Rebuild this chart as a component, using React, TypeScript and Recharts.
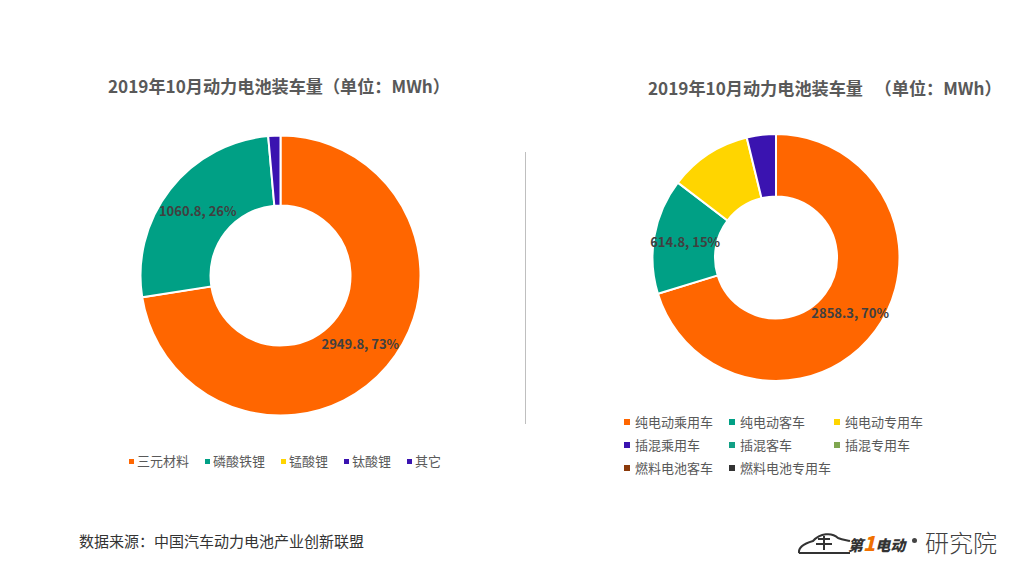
import React from 'react';
import { PieChart, Pie, Cell, Legend } from 'recharts';

const FONT = '"Noto Sans CJK SC", "Noto Sans", sans-serif';

const leftTitle = '2019年10月动力电池装车量\uFF08单位\uFF1AMWh\uFF09';
const rightTitle = '2019年10月动力电池装车量   \uFF08单位\uFF1AMWh\uFF09';
const sourceNote = '数据来源\uFF1A中国汽车动力电池产业创新联盟';

const materialNames = ['三元材料', '磷酸铁锂', '锰酸锂', '钛酸锂', '其它'];
const materialValues = [2949.8, 1060.8, 0, 0, 57];
const materialColors = ['#FF6600', '#00A085', '#FFD500', '#3A13B0', '#3A13B0'];

const vehicleNames = ['纯电动乘用车', '纯电动客车', '纯电动专用车', '插混乘用车', '插混客车', '插混专用车', '燃料电池客车', '燃料电池专用车'];
const vehicleValues = [2858.3, 614.8, 440, 155, 0, 0, 0, 0];
const vehicleColors = ['#FF6600', '#00A085', '#FFD500', '#3A13B0', '#12A085', '#7FA650', '#8B3A0A', '#333333'];

const materialData = materialNames.map((name, i) => ({ name, value: materialValues[i] }));
const vehicleData = vehicleNames.map((name, i) => ({ name, value: vehicleValues[i] }));

const renderLabel = (props: any) => {
  if (props.index > 1) return null;
  const r = (props.innerRadius + props.outerRadius) / 2;
  const a = (-props.midAngle * Math.PI) / 180;
  return (
    <text
      x={props.cx + r * Math.cos(a)}
      y={props.cy + r * Math.sin(a)}
      textAnchor="middle"
      dominantBaseline="central"
      fontSize={13}
      fontWeight={700}
      fontFamily={FONT}
      fill="#404040"
    >
      {`${props.value}, ${Math.round(props.percent * 100)}%`}
    </text>
  );
};

const MaterialLegend = ({ payload }: any) => (
  <div style={{ display: 'flex', fontSize: 13, color: '#595959', fontFamily: FONT, lineHeight: '18px', whiteSpace: 'nowrap' }}>
    {(payload || []).map((p: any) => (
      <div key={p.value} style={{ display: 'flex', alignItems: 'center', marginRight: 16 }}>
        <span style={{ flex: 'none', width: 5, height: 5, background: p.color, marginRight: 3 }} />
        {p.value}
      </div>
    ))}
  </div>
);

const VehicleLegend = ({ payload }: any) => (
  <div style={{ display: 'grid', gridTemplateColumns: '105px 105px 105px', rowGap: 5, fontSize: 13, color: '#595959', fontFamily: FONT, lineHeight: '18px' }}>
    {(payload || []).map((p: any) => (
      <div key={p.value} style={{ display: 'flex', alignItems: 'center', whiteSpace: 'nowrap' }}>
        <span style={{ flex: 'none', width: 6, height: 6, background: p.color, marginRight: 5 }} />
        {p.value}
      </div>
    ))}
  </div>
);

const titleStyle: React.CSSProperties = {
  position: 'absolute',
  fontSize: 17.15,
  fontWeight: 700,
  color: '#595959',
  whiteSpace: 'pre',
  lineHeight: '24px',
};

export default function App() {
  return (
    <div style={{ position: 'absolute', left: 0, top: 0, width: 1024, height: 576, background: '#fff', overflow: 'hidden', fontFamily: FONT }}>
      <div style={{ ...titleStyle, left: 108, top: 74 }}>{leftTitle}</div>
      <div style={{ ...titleStyle, left: 648, top: 76 }}>{rightTitle}</div>

      <div style={{ position: 'absolute', left: 80, top: 110 }}>
        <PieChart width={400} height={370} margin={{ top: 0, right: 0, bottom: 0, left: 0 }}>
          <Pie
            data={materialData}
            dataKey="value"
            nameKey="name"
            cx={200.5}
            cy={165.5}
            innerRadius={70}
            outerRadius={140}
            startAngle={90}
            endAngle={-270}
            stroke="#fff"
            strokeWidth={2}
            label={renderLabel}
            labelLine={false}
            isAnimationActive={false}
          >
            {materialData.map((d, i) => (
              <Cell key={d.name} fill={materialColors[i]} />
            ))}
          </Pie>
          <Legend content={<MaterialLegend />} itemSorter={null} wrapperStyle={{ left: 49, top: 342, width: 345 }} />
        </PieChart>
      </div>

      <div style={{ position: 'absolute', left: 525, top: 152, width: 1, height: 272, background: '#bfbfbf' }} />

      <div style={{ position: 'absolute', left: 610, top: 110 }}>
        <PieChart width={340} height={380} margin={{ top: 0, right: 0, bottom: 0, left: 0 }}>
          <Pie
            data={vehicleData}
            dataKey="value"
            nameKey="name"
            cx={166}
            cy={147.5}
            innerRadius={61}
            outerRadius={123.5}
            startAngle={90}
            endAngle={-270}
            stroke="#fff"
            strokeWidth={2}
            label={renderLabel}
            labelLine={false}
            isAnimationActive={false}
          >
            {vehicleData.map((d, i) => (
              <Cell key={d.name} fill={vehicleColors[i]} />
            ))}
          </Pie>
          <Legend content={<VehicleLegend />} itemSorter={null} wrapperStyle={{ left: 14, top: 303, width: 320 }} />
        </PieChart>
      </div>

      <div style={{ position: 'absolute', left: 79, top: 531, fontSize: 15, lineHeight: '20px', color: '#333' }}>
        {sourceNote}
      </div>

      <div style={{ position: 'absolute', left: 796, top: 524, width: 210, height: 36, whiteSpace: 'nowrap' }}>
        <svg width={60} height={30} style={{ position: 'absolute', left: 0, top: 4 }}>
          <path d="M3 25 C2 18 10 15 17 13 C24 5 36 4 42 10 C47 12 50 12 54 13 M3 25 L54 25 M22 11 L34 11 M20 16 L36 16 M28 8 L28 22" fill="none" stroke="#333" strokeWidth={2} />
        </svg>
        <span style={{ position: 'absolute', left: 52, top: 7, fontSize: 15, fontWeight: 900, fontStyle: 'italic', color: '#333', lineHeight: '24px' }}>
          第<span style={{ color: '#F07000', fontSize: 20 }}>1</span>电动
        </span>
        <span style={{ position: 'absolute', left: 116, top: 14, width: 5, height: 5, borderRadius: 3, background: '#444' }} />
        <span style={{ position: 'absolute', left: 129, top: 2, fontSize: 24, fontWeight: 300, color: '#404040', lineHeight: '32px' }}>研究院</span>
      </div>
    </div>
  );
}
